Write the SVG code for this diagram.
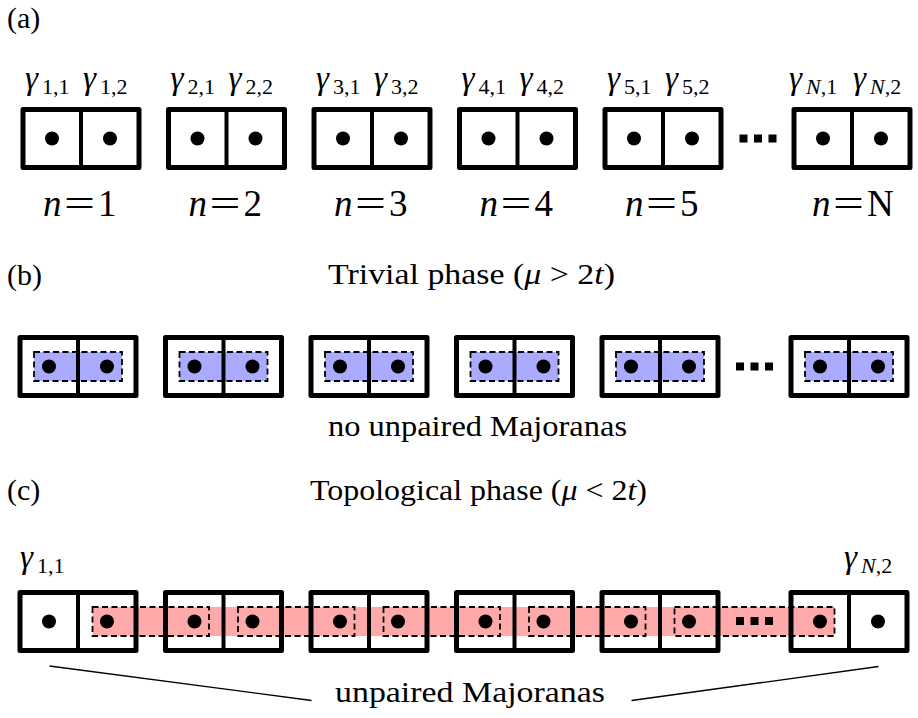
<svg xmlns="http://www.w3.org/2000/svg" width="918" height="718" viewBox="0 0 918 718">
<style>
.box{fill:none;stroke:#000;stroke-width:5;stroke-linejoin:round}
.dv{stroke:#000;stroke-width:4}
.dot{fill:#000}
.dash{fill:none;stroke:#000;stroke-width:1.8;stroke-dasharray:6 3.5}
.blue{fill:#aaaaff}
.pink{fill:#ffaaaa}
.t{font-family:"Liberation Serif","Times New Roman",serif;font-size:30px;fill:#000}
.gam{font-family:"Liberation Serif","Times New Roman",serif;font-size:33px;font-style:italic;fill:#000}
.sub{font-style:normal;font-size:22px}
.nl{font-family:"Liberation Serif","Times New Roman",serif;font-size:37px;fill:#000}
.it{font-style:italic}
.sq{fill:#000}
.conn{stroke:#000;stroke-width:1.3;fill:none}
</style>
<rect x="0" y="0" width="918" height="718" fill="#fff"/>

<!-- panel labels -->
<text class="t" x="7" y="28">(a)</text>
<text class="t" x="7" y="285">(b)</text>
<text class="t" x="7" y="500">(c)</text>

<!-- (a) row -->
<g id="a-site1">
<text class="gam"><tspan x="25" y="89">γ</tspan><tspan class="sub" x="42" y="94">1,1</tspan></text>
<text class="gam"><tspan x="83" y="89">γ</tspan><tspan class="sub" x="100" y="94">1,2</tspan></text>
<rect class="box" x="23" y="109.5" width="116" height="58"/><line class="dv" x1="81" y1="109.5" x2="81" y2="167.5"/>
<circle class="dot" cx="52" cy="138.5" r="7"/><circle class="dot" cx="110" cy="138.5" r="7"/>
<text class="nl" y="216"><tspan class="it" x="43">n</tspan><tspan x="64" textLength="31" lengthAdjust="spacingAndGlyphs">=</tspan><tspan x="98">1</tspan></text>
</g>
<g id="a-site2">
<text class="gam"><tspan x="170.5" y="89">γ</tspan><tspan class="sub" x="187.5" y="94">2,1</tspan></text>
<text class="gam"><tspan x="228.5" y="89">γ</tspan><tspan class="sub" x="245.5" y="94">2,2</tspan></text>
<rect class="box" x="168.5" y="109.5" width="116" height="58"/><line class="dv" x1="226.5" y1="109.5" x2="226.5" y2="167.5"/>
<circle class="dot" cx="197.5" cy="138.5" r="7"/><circle class="dot" cx="255.5" cy="138.5" r="7"/>
<text class="nl" y="216"><tspan class="it" x="188.5">n</tspan><tspan x="209.5" textLength="31" lengthAdjust="spacingAndGlyphs">=</tspan><tspan x="243.5">2</tspan></text>
</g>
<g id="a-site3">
<text class="gam"><tspan x="316" y="89">γ</tspan><tspan class="sub" x="333" y="94">3,1</tspan></text>
<text class="gam"><tspan x="374" y="89">γ</tspan><tspan class="sub" x="391" y="94">3,2</tspan></text>
<rect class="box" x="314" y="109.5" width="116" height="58"/><line class="dv" x1="372" y1="109.5" x2="372" y2="167.5"/>
<circle class="dot" cx="343" cy="138.5" r="7"/><circle class="dot" cx="401" cy="138.5" r="7"/>
<text class="nl" y="216"><tspan class="it" x="334">n</tspan><tspan x="355" textLength="31" lengthAdjust="spacingAndGlyphs">=</tspan><tspan x="389">3</tspan></text>
</g>
<g id="a-site4">
<text class="gam"><tspan x="461.5" y="89">γ</tspan><tspan class="sub" x="478.5" y="94">4,1</tspan></text>
<text class="gam"><tspan x="519.5" y="89">γ</tspan><tspan class="sub" x="536.5" y="94">4,2</tspan></text>
<rect class="box" x="459.5" y="109.5" width="116" height="58"/><line class="dv" x1="517.5" y1="109.5" x2="517.5" y2="167.5"/>
<circle class="dot" cx="488.5" cy="138.5" r="7"/><circle class="dot" cx="546.5" cy="138.5" r="7"/>
<text class="nl" y="216"><tspan class="it" x="479.5">n</tspan><tspan x="500.5" textLength="31" lengthAdjust="spacingAndGlyphs">=</tspan><tspan x="534.5">4</tspan></text>
</g>
<g id="a-site5">
<text class="gam"><tspan x="607" y="89">γ</tspan><tspan class="sub" x="624" y="94">5,1</tspan></text>
<text class="gam"><tspan x="665" y="89">γ</tspan><tspan class="sub" x="682" y="94">5,2</tspan></text>
<rect class="box" x="605" y="109.5" width="116" height="58"/><line class="dv" x1="663" y1="109.5" x2="663" y2="167.5"/>
<circle class="dot" cx="634" cy="138.5" r="7"/><circle class="dot" cx="692" cy="138.5" r="7"/>
<text class="nl" y="216"><tspan class="it" x="625">n</tspan><tspan x="646" textLength="31" lengthAdjust="spacingAndGlyphs">=</tspan><tspan x="680">5</tspan></text>
</g>
<g id="a-ellipsis">
<rect class="sq" x="739.5" y="134.5" width="8" height="8"/><rect class="sq" x="754" y="134.5" width="8" height="8"/><rect class="sq" x="768.5" y="134.5" width="8" height="8"/>
</g>
<g id="a-siteN">
<text class="gam"><tspan x="789" y="89">γ</tspan><tspan class="sub" x="806" y="94"><tspan class="it">N</tspan>,1</tspan></text>
<text class="gam"><tspan x="853" y="89">γ</tspan><tspan class="sub" x="870" y="94"><tspan class="it">N</tspan>,2</tspan></text>
<rect class="box" x="794" y="109.5" width="116" height="58"/><line class="dv" x1="852" y1="109.5" x2="852" y2="167.5"/>
<circle class="dot" cx="823" cy="138.5" r="7"/><circle class="dot" cx="881" cy="138.5" r="7"/>
<text class="nl" y="216"><tspan class="it" x="812">n</tspan><tspan x="833" textLength="31" lengthAdjust="spacingAndGlyphs">=</tspan><tspan x="867">N</tspan></text>
</g>

<!-- (b) row -->
<text class="t" x="328" y="284" textLength="287" lengthAdjust="spacingAndGlyphs">Trivial phase (<tspan class="it">μ</tspan> &gt; 2<tspan class="it">t</tspan>)</text>
<g id="b-site1">
<rect class="blue" x="34" y="352" width="88" height="29"/>
<rect class="box" x="20" y="337.5" width="116" height="58"/><line class="dv" x1="78" y1="337.5" x2="78" y2="395.5"/>
<circle class="dot" cx="49" cy="366.5" r="7"/><circle class="dot" cx="107" cy="366.5" r="7"/>
<rect class="dash" x="34" y="352" width="88" height="29"/>
</g>
<g id="b-site2">
<rect class="blue" x="179.5" y="352" width="88" height="29"/>
<rect class="box" x="165.5" y="337.5" width="116" height="58"/><line class="dv" x1="223.5" y1="337.5" x2="223.5" y2="395.5"/>
<circle class="dot" cx="194.5" cy="366.5" r="7"/><circle class="dot" cx="252.5" cy="366.5" r="7"/>
<rect class="dash" x="179.5" y="352" width="88" height="29"/>
</g>
<g id="b-site3">
<rect class="blue" x="325" y="352" width="88" height="29"/>
<rect class="box" x="311" y="337.5" width="116" height="58"/><line class="dv" x1="369" y1="337.5" x2="369" y2="395.5"/>
<circle class="dot" cx="340" cy="366.5" r="7"/><circle class="dot" cx="398" cy="366.5" r="7"/>
<rect class="dash" x="325" y="352" width="88" height="29"/>
</g>
<g id="b-site4">
<rect class="blue" x="470.5" y="352" width="88" height="29"/>
<rect class="box" x="456.5" y="337.5" width="116" height="58"/><line class="dv" x1="514.5" y1="337.5" x2="514.5" y2="395.5"/>
<circle class="dot" cx="485.5" cy="366.5" r="7"/><circle class="dot" cx="543.5" cy="366.5" r="7"/>
<rect class="dash" x="470.5" y="352" width="88" height="29"/>
</g>
<g id="b-site5">
<rect class="blue" x="616" y="352" width="88" height="29"/>
<rect class="box" x="602" y="337.5" width="116" height="58"/><line class="dv" x1="660" y1="337.5" x2="660" y2="395.5"/>
<circle class="dot" cx="631" cy="366.5" r="7"/><circle class="dot" cx="689" cy="366.5" r="7"/>
<rect class="dash" x="616" y="352" width="88" height="29"/>
</g>
<g id="b-ellipsis">
<rect class="sq" x="736" y="362.5" width="8" height="8"/><rect class="sq" x="750.5" y="362.5" width="8" height="8"/><rect class="sq" x="765" y="362.5" width="8" height="8"/>
</g>
<g id="b-siteN">
<rect class="blue" x="805" y="352" width="88" height="29"/>
<rect class="box" x="791" y="337.5" width="116" height="58"/><line class="dv" x1="849" y1="337.5" x2="849" y2="395.5"/>
<circle class="dot" cx="820" cy="366.5" r="7"/><circle class="dot" cx="878" cy="366.5" r="7"/>
<rect class="dash" x="805" y="352" width="88" height="29"/>
</g>
<text class="t" x="328" y="436" textLength="299" lengthAdjust="spacingAndGlyphs">no unpaired Majoranas</text>

<!-- (c) row -->
<text class="t" x="310" y="500" textLength="337" lengthAdjust="spacingAndGlyphs">Topological phase (<tspan class="it">μ</tspan> &lt; 2<tspan class="it">t</tspan>)</text>
<g id="c-band">
<rect class="pink" x="92.5" y="607" width="742" height="29"/>
</g>
<g id="c-site1">
<text class="gam"><tspan x="20" y="567.5">γ</tspan><tspan class="sub" x="37" y="572.5">1,1</tspan></text>
<rect class="box" x="20" y="592.5" width="116" height="58"/><line class="dv" x1="78" y1="592.5" x2="78" y2="650.5"/>
<circle class="dot" cx="49" cy="621.5" r="7"/><circle class="dot" cx="107" cy="621.5" r="7"/>
</g>
<g id="c-site2">
<rect class="box" x="165.5" y="592.5" width="116" height="58"/><line class="dv" x1="223.5" y1="592.5" x2="223.5" y2="650.5"/>
<circle class="dot" cx="194.5" cy="621.5" r="7"/><circle class="dot" cx="252.5" cy="621.5" r="7"/>
</g>
<g id="c-site3">
<rect class="box" x="311" y="592.5" width="116" height="58"/><line class="dv" x1="369" y1="592.5" x2="369" y2="650.5"/>
<circle class="dot" cx="340" cy="621.5" r="7"/><circle class="dot" cx="398" cy="621.5" r="7"/>
</g>
<g id="c-site4">
<rect class="box" x="456.5" y="592.5" width="116" height="58"/><line class="dv" x1="514.5" y1="592.5" x2="514.5" y2="650.5"/>
<circle class="dot" cx="485.5" cy="621.5" r="7"/><circle class="dot" cx="543.5" cy="621.5" r="7"/>
</g>
<g id="c-site5">
<rect class="box" x="602" y="592.5" width="116" height="58"/><line class="dv" x1="660" y1="592.5" x2="660" y2="650.5"/>
<circle class="dot" cx="631" cy="621.5" r="7"/><circle class="dot" cx="689" cy="621.5" r="7"/>
</g>
<g id="c-siteN">
<text class="gam"><tspan x="844" y="567.5">γ</tspan><tspan class="sub" x="861" y="572.5"><tspan class="it">N</tspan>,2</tspan></text>
<rect class="box" x="791" y="592.5" width="116" height="58"/><line class="dv" x1="849" y1="592.5" x2="849" y2="650.5"/>
<circle class="dot" cx="820" cy="621.5" r="7"/><circle class="dot" cx="878" cy="621.5" r="7"/>
</g>
<g id="c-pairs">
<rect class="dash" x="92.5" y="607" width="116.5" height="29"/>
<rect class="dash" x="238" y="607" width="116.5" height="29"/>
<rect class="dash" x="383.5" y="607" width="116.5" height="29"/>
<rect class="dash" x="529" y="607" width="116.5" height="29"/>
<rect class="dash" x="674.5" y="607" width="160" height="29"/>
</g>
<g id="c-ellipsis">
<rect class="sq" x="736" y="617" width="8" height="8"/><rect class="sq" x="750.5" y="617" width="8" height="8"/><rect class="sq" x="765" y="617" width="8" height="8"/>
</g>
<g id="connectors">
<line class="conn" x1="49.5" y1="666" x2="311.5" y2="700.5"/>
<line class="conn" x1="631.5" y1="700.5" x2="878.5" y2="666.5"/>
</g>
<text class="t" x="335" y="702" textLength="270" lengthAdjust="spacingAndGlyphs">unpaired Majoranas</text>
</svg>
